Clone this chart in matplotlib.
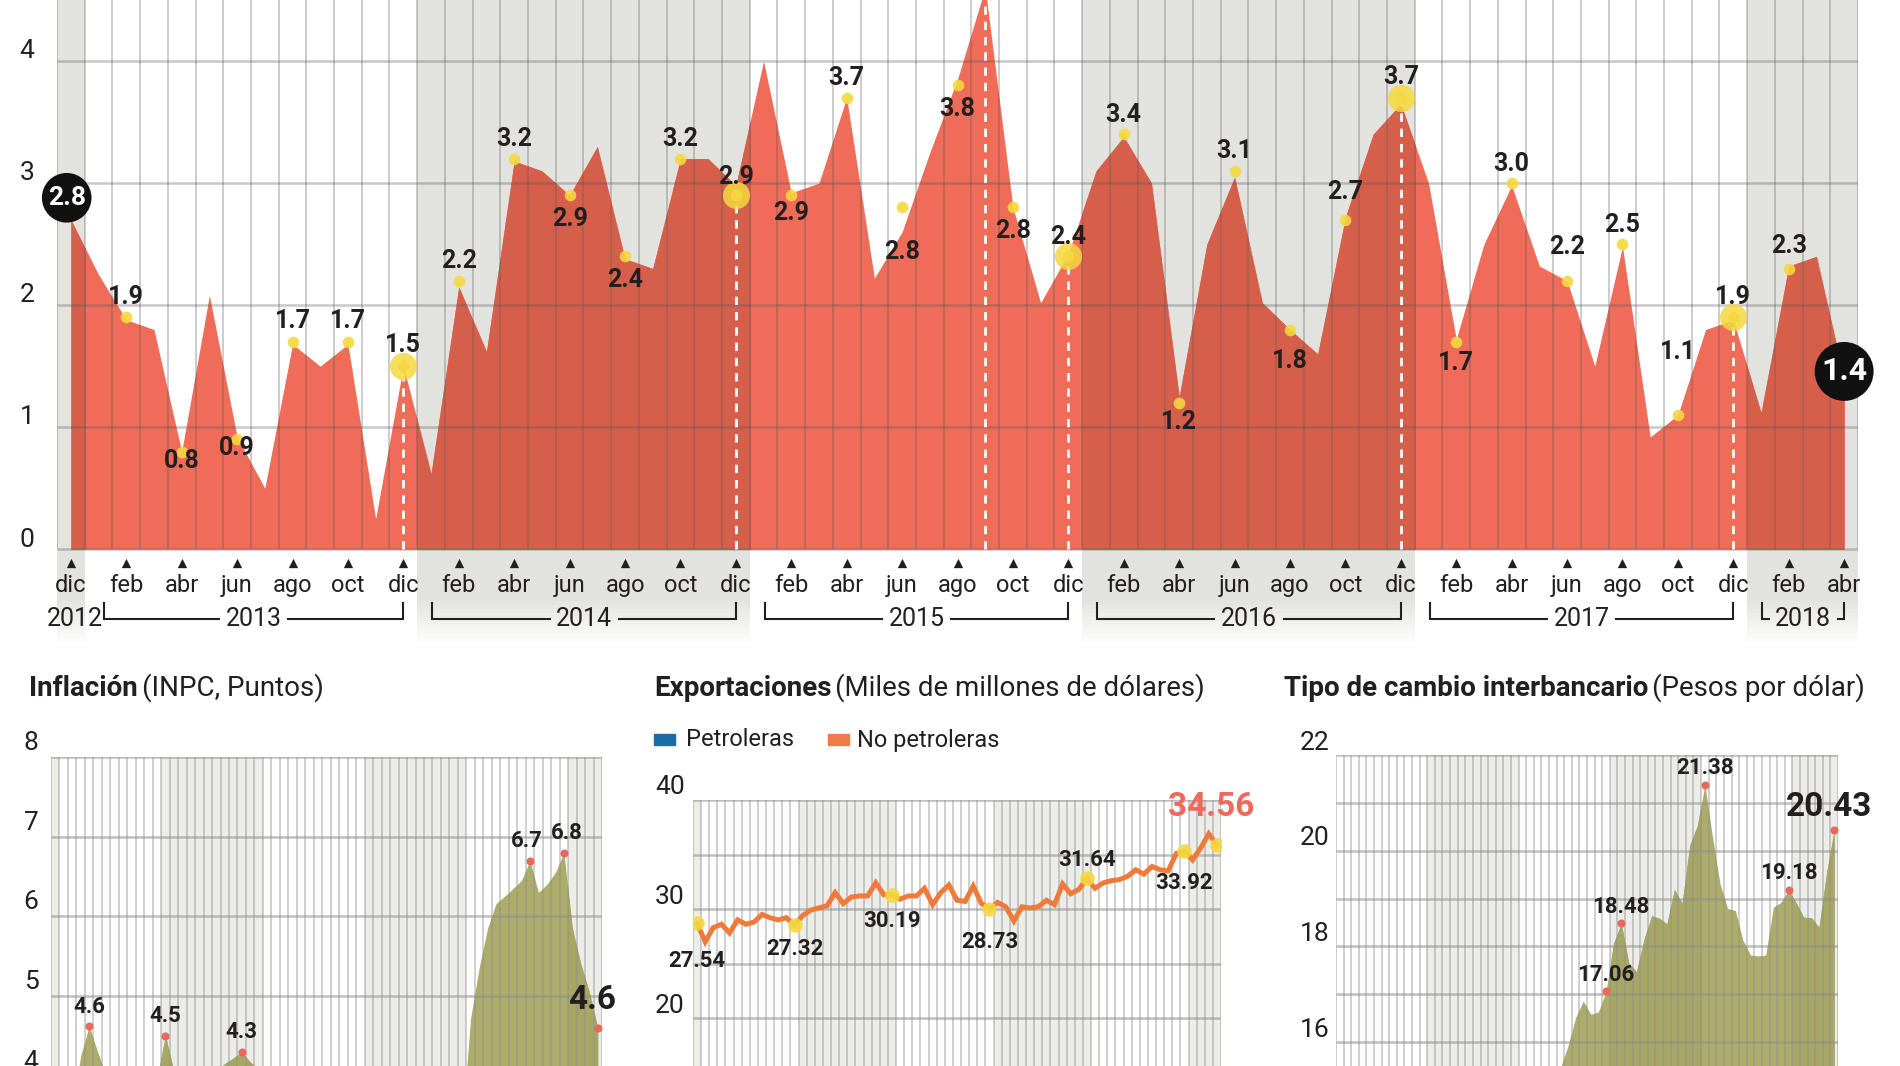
import matplotlib.pyplot as plt
from matplotlib.patches import Rectangle

plt.rcParams['font.family'] = ['Roboto', 'DejaVu Sans']

W, H = 1900, 1066
TEXTO = '#231F20'
GRIS_BANDA = '#E2E3DF'

# Gráfica principal: variación mensual (%), dic 2012 - abr 2018
variacion = [2.70, 2.25, 1.88, 1.80, 0.80, 2.08, 0.92, 0.50, 1.68, 1.50, 1.68, 0.25,
             1.50, 0.62, 2.15, 1.62, 3.18, 3.10, 2.90, 3.30, 2.38, 2.30, 3.20, 3.20,
             2.98, 4.00, 2.92, 3.00, 3.70, 2.22, 2.60, 3.25, 3.85, 4.60, 2.80, 2.02,
             2.42, 3.10, 3.38, 3.00, 1.25, 2.50, 3.05, 2.02, 1.80, 1.60, 2.72, 3.40,
             3.65, 3.00, 1.72, 2.50, 2.98, 2.32, 2.20, 1.50, 2.48, 0.92, 1.10, 1.80,
             1.88, 1.12, 2.32, 2.40, 1.40]
puntos_idx = [2, 4, 6, 8, 10, 12, 14, 16, 18, 20, 22, 24, 26, 28, 30, 32,
              34, 36, 38, 40, 42, 44, 46, 48, 50, 52, 54, 56, 58, 60, 62]
puntos_val = [1.9, 0.8, 0.9, 1.7, 1.7, 1.5, 2.2, 3.2, 2.9, 2.4, 3.2, 2.9, 2.9, 3.7, 2.8, 3.8,
              2.8, 2.4, 3.4, 1.2, 3.1, 1.8, 2.7, 3.7, 1.7, 3.0, 2.2, 2.5, 1.1, 1.9, 2.3]
inicio_val, final_val = 2.8, 1.4
lineas_idx = [12, 24, 33, 36, 48, 60]
grandes_idx = [12, 24, 36, 48, 60]
meses_tick = ['dic', 'feb', 'abr', 'jun', 'ago', 'oct',
              'dic', 'feb', 'abr', 'jun', 'ago', 'oct',
              'dic', 'feb', 'abr', 'jun', 'ago', 'oct',
              'dic', 'feb', 'abr', 'jun', 'ago', 'oct',
              'dic', 'feb', 'abr', 'jun', 'ago', 'oct',
              'dic', 'feb', 'abr']
anios = ['2012', '2013', '2014', '2015', '2016', '2017', '2018']
anio_ini = [0, 1, 13, 25, 37, 49, 61]
anio_fin = [0, 12, 24, 36, 48, 60, 64]

# Inflación (INPC), dic 2012 - abr 2018
inflacion = [3.57,
             3.25, 3.55, 4.25, 4.62, 4.30, 4.00, 3.47, 3.46, 3.39, 3.36, 3.62, 3.97,
             4.50, 4.05, 3.76, 3.50, 3.51, 3.75, 4.07, 4.15, 4.22, 4.30, 4.17, 4.08,
             3.07, 3.00, 3.14, 3.06, 2.88, 2.87, 2.74, 2.59, 2.52, 2.48, 2.21, 2.13,
             2.61, 2.87, 2.60, 2.54, 2.60, 2.54, 2.65, 2.73, 2.97, 3.06, 3.31, 3.36,
             4.72, 5.35, 5.85, 6.16, 6.25, 6.35, 6.45, 6.70, 6.30, 6.40, 6.55, 6.80,
             5.85, 5.40, 5.05, 4.60]
infl_idx = [4, 13, 22, 56, 60, 64]
infl_etiq = ['4.6', '4.5', '4.3', '6.7', '6.8', '4.6']

# Exportaciones no petroleras (miles de millones de dólares), dic 2012 - abr 2018
exportaciones = [28.7, 27.0, 28.3, 28.6, 27.8, 29.0, 28.6, 28.8, 29.5, 29.2, 29.0, 29.2,
                 28.5, 29.4, 29.9, 30.1, 30.3, 31.5, 30.5, 31.1, 31.2, 31.2, 32.4, 31.3,
                 31.3, 30.9, 31.2, 31.2, 31.9, 30.4, 31.5, 32.2, 30.8, 30.7, 32.1, 30.5,
                 30.0, 30.6, 30.2, 28.9, 30.2, 30.1, 30.2, 30.8, 30.4, 32.3, 31.4, 31.8,
                 32.8, 31.9, 32.4, 32.6, 32.7, 33.0, 33.6, 33.2, 33.9, 33.6, 33.5, 35.1,
                 35.3, 34.5, 35.6, 36.9, 35.9]
expo_idx = [0, 12, 24, 36, 48, 60, 64]
expo_etiq = ['27.54', '27.32', '30.19', '28.73', '31.64', '33.92', '34.56']

# Tipo de cambio interbancario (pesos por dólar), ene 2013 - jun 2018
tipo_cambio = [12.71, 12.70, 12.48, 12.21, 12.31, 12.98, 12.74, 12.93, 13.22, 13.03, 13.08, 13.01,
               13.21, 13.29, 13.20, 13.07, 12.92, 12.99, 13.03, 13.16, 13.23, 13.49, 13.63, 14.51,
               14.69, 14.92, 15.23, 15.22, 15.25, 15.46, 15.92, 16.51, 16.86, 16.58, 16.63, 17.06,
               18.07, 18.48, 17.65, 17.47, 18.15, 18.64, 18.59, 18.47, 19.19, 18.90, 20.11, 20.52,
               21.38, 20.28, 19.30, 18.79, 18.75, 18.13, 17.82, 17.80, 17.82, 18.82, 18.92, 19.18,
               18.91, 18.61, 18.60, 18.40, 19.54, 20.43]
tc_idx = [35, 37, 48, 59, 65]
tc_etiq = ['17.06', '18.48', '21.38', '19.18', '20.43']


def ejes(fig, x0, y0, x1, y1):
    ax = fig.add_axes([x0 / W, 1 - y1 / H, (x1 - x0) / W, (y1 - y0) / H])
    for s in ax.spines.values():
        s.set_visible(False)
    ax.set_xticks([])
    ax.set_yticks([])
    return ax


def bandas_grises(n, primer_anio, primer_mes):
    """Tramos (x0, x1) de los años pares, en coordenadas de columna."""
    tramos = []
    for i in range(n):
        anio = primer_anio + (primer_mes - 1 + i) // 12
        if anio % 2 == 0:
            if tramos and tramos[-1][1] == i - 0.5:
                tramos[-1][1] = i + 0.5
            else:
                tramos.append([i - 0.5, i + 0.5])
    return tramos


def area_bicolor(ax, x, y, base, top, claro, oscuro, tramos):
    ax.fill_between(x, base, y, color=claro, lw=0, zorder=2)
    for a, b in tramos:
        p = ax.fill_between(x, base, y, color=oscuro, lw=0, zorder=2.1)
        p.set_clip_path(Rectangle((a, base), b - a, top - base, transform=ax.transData))


def etiqueta_y(ax, valores, x_ax, dy, size):
    for v in valores:
        ax.annotate(f'{v:g}', (x_ax, v), xycoords=ax.get_yaxis_transform(),
                    xytext=(0, dy), textcoords='offset points',
                    ha='center', va='center', fontsize=size, color=TEXTO)


def titulo(fig, x, y, negrita, normal):
    t = fig.text(x / W, 1 - y / H, negrita, fontsize=20, fontweight='bold',
                 ha='left', va='center', color=TEXTO)
    bb = t.get_window_extent(fig.canvas.get_renderer())
    fig.text(bb.x1 / fig.bbox.width + 0.002, 1 - y / H, normal, fontsize=20,
             ha='left', va='center', color=TEXTO)


def fondo_panel(ax, n, primer_anio, primer_mes, ylo, yhi, ylineas):
    ax.set_xlim(-0.5, n - 0.5)
    ax.set_ylim(ylo, yhi)
    for a, b in bandas_grises(n, primer_anio, primer_mes):
        ax.add_patch(Rectangle((a, ylo), b - a, yhi - ylo, color='#ECECE9', lw=0, zorder=0))
    ax.vlines([i - 0.5 for i in range(n + 1)], ylo, yhi, color='#8C8C8C', alpha=0.42,
              lw=1.4, zorder=3)
    ax.hlines(ylineas, -0.5, n - 0.5, color='#8C8C8C', alpha=0.55, lw=1.8, zorder=3)


fig = plt.figure(figsize=(W / 100, H / 100), dpi=100)

# ---------------- gráfica principal ----------------
ax = ejes(fig, 57, 0, 1858, 642)
n = len(variacion)
x = list(range(n))
ax.set_xlim(-0.5, n - 0.5)
ax.set_ylim(-0.76, 4.5)

tramos = bandas_grises(n, 2012, 12)
for a, b in tramos:
    ax.add_patch(Rectangle((a, -0.42), b - a, 4.92, color=GRIS_BANDA, lw=0, zorder=0))
    for k in range(10):
        ax.add_patch(Rectangle((a, -0.42 - (k + 1) * 0.034), b - a, 0.034, color=GRIS_BANDA,
                               alpha=1 - (k + 1) / 11, lw=0, zorder=0))

area_bicolor(ax, x, variacion, 0, 4.5, '#EE6C58', '#D65F4C', tramos)

ax.vlines([i - 0.5 for i in range(n + 1)], 0, 4.5, color='#555555', alpha=0.32, lw=1.3, zorder=3)
ax.hlines([0, 1, 2, 3, 4], -0.5, n - 0.5, color='#555555', alpha=0.32, lw=1.8, zorder=3)
etiqueta_y(ax, [0, 1, 2, 3, 4], -0.0167, 7, 19)

for i in lineas_idx:
    ax.vlines(i, 0, variacion[i], color='white', lw=2, linestyles=(0, (3, 2.5)), zorder=4)

ax.scatter(puntos_idx, puntos_val, s=70, color='#F5D83E', alpha=0.9, lw=0, zorder=5)
ax.scatter(grandes_idx, [puntos_val[puntos_idx.index(i)] for i in grandes_idx],
           s=380, color='#F5D83E', alpha=0.85, lw=0, zorder=5)

desfase = [15, -7, -6, 15, 15, 15, 14, 14, -17, -17, 14, 13, -13, 14, -32, -17,
           -17, 14, 14, -14, 14, -23, 20, 15, -15, 14, 24, 14, 45, 15, 16]
for i, v, dy in zip(puntos_idx, puntos_val, desfase):
    ax.annotate(f'{v:.1f}', (i, v), xytext=(0, dy), textcoords='offset points',
                ha='center', va='center', fontsize=18, fontweight='bold', color=TEXTO, zorder=6)

ax.annotate(f'{inicio_val:.1f}', (0, inicio_val), xytext=(-3, 7), textcoords='offset points',
            ha='center', va='center', fontsize=19, fontweight='bold', color='white', zorder=7,
            bbox=dict(boxstyle='circle,pad=0.22', fc='#111111', ec='none'))
ax.annotate(f'{final_val:.1f}', (n - 1, final_val), xytext=(0, 5), textcoords='offset points',
            ha='center', va='center', fontsize=23, fontweight='bold', color='white', zorder=7,
            bbox=dict(boxstyle='circle,pad=0.2', fc='#111111', ec='none'))

# eje de meses y años
tick_x = list(range(0, n, 2))
ax.scatter(tick_x, [-0.11] * len(tick_x), marker='^', s=45, color=TEXTO, lw=0, zorder=5)
for i, m in zip(tick_x, meses_tick):
    ax.text(i, -0.30, m, ha='center', va='center', fontsize=17, color=TEXTO, zorder=5)

for nombre, a, b in zip(anios, anio_ini, anio_fin):
    if a == b:
        ax.text(a + 0.15, -0.57, nombre, ha='center', va='center', fontsize=18, color=TEXTO)
        continue
    izq = a + (0.2 if a == 1 else 0.05)
    der = b
    centro = (izq + der) / 2
    hueco = 1.25
    ax.plot([izq, izq, centro - hueco], [-0.44, -0.57, -0.57], color=TEXTO, lw=1.5,
            solid_joinstyle='miter')
    ax.plot([centro + hueco, der, der], [-0.57, -0.57, -0.44], color=TEXTO, lw=1.5,
            solid_joinstyle='miter')
    ax.text(centro, -0.57, nombre, ha='center', va='center', fontsize=18, color=TEXTO)

# ---------------- Inflación ----------------
titulo(fig, 29, 688, 'Inflación', '(INPC, Puntos)')
ax1 = ejes(fig, 51, 757, 602, 1066)
n1 = len(inflacion)
fondo_panel(ax1, n1, 2012, 12, 4.12, 8, [5, 6, 7, 8])
area_bicolor(ax1, list(range(n1)), inflacion, 0, 8, '#ADAD6B', '#A7A765',
             bandas_grises(n1, 2012, 12))
etiqueta_y(ax1, [4, 5, 6, 7, 8], -0.036, 10, 19)
ax1.scatter(infl_idx, [inflacion[i] for i in infl_idx], s=34, color='#E96A5A', lw=0, zorder=5)
infl_dx = [0, 0, 0, -2, 2, -4]
for k, (i, t) in enumerate(zip(infl_idx, infl_etiq)):
    ultimo = k == len(infl_idx) - 1
    ax1.annotate(t, (i, inflacion[i]), xytext=(infl_dx[k], 20 if ultimo else 14),
                 textcoords='offset points', ha='center', va='center',
                 fontsize=24 if ultimo else 16, fontweight='bold', color=TEXTO,
                 annotation_clip=False, zorder=6)

# ---------------- Exportaciones ----------------
titulo(fig, 654, 688, 'Exportaciones', '(Miles de millones de dólares)')
fig.patches.append(Rectangle((654 / W, 1 - 745 / H), 21 / W, 11 / H, color='#1B6BA5',
                             transform=fig.transFigure, figure=fig))
fig.text(686 / W, 1 - 740 / H, 'Petroleras', fontsize=17, ha='left', va='center', color=TEXTO)
fig.patches.append(Rectangle((828 / W, 1 - 745 / H), 21 / W, 11 / H, color='#F07A4A',
                             transform=fig.transFigure, figure=fig))
fig.text(857 / W, 1 - 740 / H, 'No petroleras', fontsize=17, ha='left', va='center', color=TEXTO)

ax2 = ejes(fig, 693, 800, 1221, 1066)
n2 = len(exportaciones)
fondo_panel(ax2, n2, 2012, 12, 15.6, 40, [20, 25, 30, 35, 40])
etiqueta_y(ax2, [20, 30, 40], -0.044, 9, 19)
ax2.plot(range(n2), exportaciones, color='#F07A3A', lw=3.6, solid_joinstyle='miter', zorder=4)
ax2.scatter(expo_idx, [exportaciones[i] for i in expo_idx], s=110, color='#F5D83E',
            alpha=0.9, lw=0, zorder=5)
expo_dy = [-27, -17, -19, -24, 13, -23, 27]
for k, (i, t) in enumerate(zip(expo_idx, expo_etiq)):
    ultimo = k == len(expo_idx) - 1
    ax2.annotate(t, (i, exportaciones[i]), xytext=(-4 if ultimo else 0, expo_dy[k]),
                 textcoords='offset points', ha='center', va='center',
                 fontsize=24 if ultimo else 16, fontweight='bold',
                 color='#EF6A5C' if ultimo else TEXTO, annotation_clip=False, zorder=6)

# ---------------- Tipo de cambio ----------------
titulo(fig, 1284, 688, 'Tipo de cambio interbancario', '(Pesos por dólar)')
ax3 = ejes(fig, 1336, 755, 1838, 1066)
n3 = len(tipo_cambio)
fondo_panel(ax3, n3, 2013, 1, 15.5, 22, [16, 17, 18, 19, 20, 21, 22])
area_bicolor(ax3, list(range(n3)), tipo_cambio, 0, 22, '#ADAD6B', '#A7A765',
             bandas_grises(n3, 2013, 1))
etiqueta_y(ax3, [16, 18, 20, 22], -0.042, 9, 19)
ax3.scatter(tc_idx, [tipo_cambio[i] for i in tc_idx], s=34, color='#E96A5A', lw=0, zorder=5)
for k, (i, t) in enumerate(zip(tc_idx, tc_etiq)):
    ultimo = k == len(tc_idx) - 1
    ax3.annotate(t, (i, tipo_cambio[i]), xytext=(-4 if ultimo else 0, 17 if ultimo else 12),
                 textcoords='offset points', ha='center', va='center',
                 fontsize=24 if ultimo else 16, fontweight='bold', color=TEXTO,
                 annotation_clip=False, zorder=6)

fig.savefig('out.png', dpi=100)
